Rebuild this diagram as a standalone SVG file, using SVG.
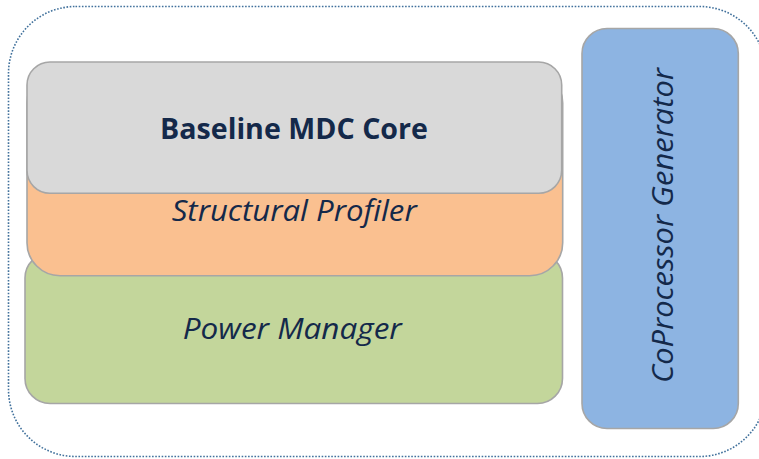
<svg xmlns="http://www.w3.org/2000/svg" width="759" height="459" viewBox="0 0 759 459">
<style>
.box{stroke:#A6A6A6;stroke-width:1.6}
.lbl{font-family:"Open Sans","Noto Sans","Liberation Sans",sans-serif;fill:#14294A;text-anchor:middle;font-size:28.5px}
.it{font-style:italic}
.b{font-weight:bold}
</style>
<rect width="759" height="459" fill="#FFFFFF"/>
<g id="container">
<rect x="8.5" y="6.5" width="758" height="450" rx="67" ry="67" fill="none" stroke="#41719C" stroke-width="1.6" stroke-dasharray="1.6 1.6"/>
</g>
<g id="connectors"></g>
<g id="power-manager">
<rect class="box" x="25" y="253" width="537.5" height="150.5" rx="25" ry="25" fill="#C3D69B"/>
<text class="lbl it" x="292.3" y="338.5" textLength="219" lengthAdjust="spacingAndGlyphs">Power Manager</text>
</g>
<g id="structural-profiler">
<rect class="box" x="27" y="70" width="535.7" height="205.7" rx="33" ry="33" fill="#FAC090"/>
<text class="lbl it" x="294.2" y="221" textLength="245" lengthAdjust="spacingAndGlyphs">Structural Profiler</text>
</g>
<g id="baseline-core">
<rect class="box" x="27" y="62" width="534.7" height="131.3" rx="23" ry="23" fill="#D9D9D9"/>
<text class="lbl b" x="294" y="139" textLength="268" lengthAdjust="spacingAndGlyphs">Baseline MDC Core</text>
</g>
<g id="coprocessor-generator">
<rect class="box" x="582" y="28.5" width="156.3" height="400" rx="25" ry="25" fill="#8DB4E2"/>
<text class="lbl it" transform="translate(672.5,225.5) rotate(-90)" x="0" y="0" textLength="315" lengthAdjust="spacingAndGlyphs">CoProcessor Generator</text>
</g>
</svg>
